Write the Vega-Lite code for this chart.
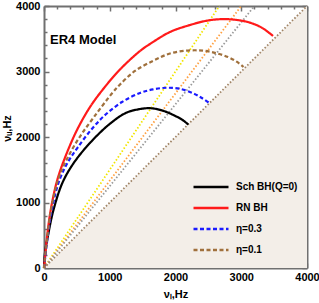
{
  "$schema": "https://vega.github.io/schema/vega-lite/v6.json",
  "autosize": {"type": "none"},
  "padding": {"left": 44, "top": 6, "right": 12, "bottom": 35},
  "width": 263,
  "height": 262,
  "config": {
    "font": "Liberation Sans",
    "view": {"stroke": null},
    "axis": {
      "labelFont": "Liberation Sans", "labelFontWeight": "bold", "labelFontSize": 11, "labelColor": "black",
      "titleFont": "Liberation Sans", "titleFontWeight": "bold", "titleFontSize": 11, "titleColor": "black",
      "domainColor": "#707070", "domainWidth": 2, "tickColor": "#707070", "tickWidth": 1.5, "grid": false
    }
  },
  "datasets": {
    "curves": [
      {"s": "Sch BH(Q=0)", "i": 0, "x": 0, "y": 0},
      {"s": "Sch BH(Q=0)", "i": 1, "x": 5, "y": 120},
      {"s": "Sch BH(Q=0)", "i": 2, "x": 20, "y": 270},
      {"s": "Sch BH(Q=0)", "i": 3, "x": 60, "y": 490},
      {"s": "Sch BH(Q=0)", "i": 4, "x": 140, "y": 870},
      {"s": "Sch BH(Q=0)", "i": 5, "x": 280, "y": 1300},
      {"s": "Sch BH(Q=0)", "i": 6, "x": 450, "y": 1600},
      {"s": "Sch BH(Q=0)", "i": 7, "x": 700, "y": 1910},
      {"s": "Sch BH(Q=0)", "i": 8, "x": 1000, "y": 2200},
      {"s": "Sch BH(Q=0)", "i": 9, "x": 1250, "y": 2370},
      {"s": "Sch BH(Q=0)", "i": 10, "x": 1450, "y": 2425},
      {"s": "Sch BH(Q=0)", "i": 11, "x": 1612, "y": 2440},
      {"s": "Sch BH(Q=0)", "i": 12, "x": 1800, "y": 2405},
      {"s": "Sch BH(Q=0)", "i": 13, "x": 1966, "y": 2336},
      {"s": "Sch BH(Q=0)", "i": 14, "x": 2100, "y": 2265},
      {"s": "Sch BH(Q=0)", "i": 15, "x": 2195, "y": 2190},
      {"s": "RN BH", "i": 0, "x": 0, "y": 0},
      {"s": "RN BH", "i": 1, "x": 15, "y": 153},
      {"s": "RN BH", "i": 2, "x": 41, "y": 427},
      {"s": "RN BH", "i": 3, "x": 102, "y": 885},
      {"s": "RN BH", "i": 4, "x": 202, "y": 1344},
      {"s": "RN BH", "i": 5, "x": 335, "y": 1725},
      {"s": "RN BH", "i": 6, "x": 502, "y": 2107},
      {"s": "RN BH", "i": 7, "x": 700, "y": 2458},
      {"s": "RN BH", "i": 8, "x": 913, "y": 2748},
      {"s": "RN BH", "i": 9, "x": 1156, "y": 3031},
      {"s": "RN BH", "i": 10, "x": 1460, "y": 3313},
      {"s": "RN BH", "i": 11, "x": 1612, "y": 3420},
      {"s": "RN BH", "i": 12, "x": 1916, "y": 3603},
      {"s": "RN BH", "i": 13, "x": 2221, "y": 3710},
      {"s": "RN BH", "i": 14, "x": 2500, "y": 3780},
      {"s": "RN BH", "i": 15, "x": 2750, "y": 3800},
      {"s": "RN BH", "i": 16, "x": 2981, "y": 3780},
      {"s": "RN BH", "i": 17, "x": 3150, "y": 3740},
      {"s": "RN BH", "i": 18, "x": 3320, "y": 3665},
      {"s": "RN BH", "i": 19, "x": 3483, "y": 3542},
      {"s": "η=0.3", "i": 0, "x": 0, "y": 0},
      {"s": "η=0.3", "i": 1, "x": 15, "y": 137},
      {"s": "η=0.3", "i": 2, "x": 50, "y": 427},
      {"s": "η=0.3", "i": 3, "x": 117, "y": 885},
      {"s": "η=0.3", "i": 4, "x": 236, "y": 1344},
      {"s": "η=0.3", "i": 5, "x": 365, "y": 1618},
      {"s": "η=0.3", "i": 6, "x": 517, "y": 1847},
      {"s": "η=0.3", "i": 7, "x": 715, "y": 2107},
      {"s": "η=0.3", "i": 8, "x": 913, "y": 2321},
      {"s": "η=0.3", "i": 9, "x": 1186, "y": 2534},
      {"s": "η=0.3", "i": 10, "x": 1460, "y": 2672},
      {"s": "η=0.3", "i": 11, "x": 1658, "y": 2727},
      {"s": "η=0.3", "i": 12, "x": 1866, "y": 2752},
      {"s": "η=0.3", "i": 13, "x": 2068, "y": 2736},
      {"s": "η=0.3", "i": 14, "x": 2271, "y": 2667},
      {"s": "η=0.3", "i": 15, "x": 2388, "y": 2603},
      {"s": "η=0.3", "i": 16, "x": 2503, "y": 2527},
      {"s": "η=0.1", "i": 0, "x": 0, "y": 0},
      {"s": "η=0.1", "i": 1, "x": 15, "y": 153},
      {"s": "η=0.1", "i": 2, "x": 46, "y": 427},
      {"s": "η=0.1", "i": 3, "x": 106, "y": 885},
      {"s": "η=0.1", "i": 4, "x": 213, "y": 1344},
      {"s": "η=0.1", "i": 5, "x": 342, "y": 1649},
      {"s": "η=0.1", "i": 6, "x": 532, "y": 1985},
      {"s": "η=0.1", "i": 7, "x": 760, "y": 2305},
      {"s": "η=0.1", "i": 8, "x": 1039, "y": 2672},
      {"s": "η=0.1", "i": 9, "x": 1156, "y": 2802},
      {"s": "η=0.1", "i": 10, "x": 1384, "y": 3008},
      {"s": "η=0.1", "i": 11, "x": 1662, "y": 3165},
      {"s": "η=0.1", "i": 12, "x": 1916, "y": 3275},
      {"s": "η=0.1", "i": 13, "x": 2190, "y": 3320},
      {"s": "η=0.1", "i": 14, "x": 2420, "y": 3318},
      {"s": "η=0.1", "i": 15, "x": 2627, "y": 3278},
      {"s": "η=0.1", "i": 16, "x": 2798, "y": 3221},
      {"s": "η=0.1", "i": 17, "x": 2931, "y": 3150},
      {"s": "η=0.1", "i": 18, "x": 3034, "y": 3069}
    ]
  },
  "layer": [
    {
      "data": {"values": [{"x": 0, "y": 0}, {"x": 4000, "y": 4000}]},
      "mark": {"type": "area", "color": "#f3eee8"},
      "encoding": {
        "x": {"field": "x", "type": "quantitative", "scale": {"domain": [0, 4000], "nice": false},
          "axis": {"orient": "bottom", "values": [0,200,400,600,800,1000,1200,1400,1600,1800,2000,2200,2400,2600,2800,3000,3200,3400,3600,3800,4000],
            "labelExpr": "datum.value % 1000 === 0 ? format(datum.value, 'd') : ''",
            "tickSize": {"condition": {"test": "datum.value % 1000 === 0", "value": -5}, "value": -3},
            "labelPadding": 8, "labelFlush": false, "title": "νₗ,Hz", "titlePadding": 6}},
        "y": {"field": "y", "type": "quantitative", "scale": {"domain": [0, 4000], "nice": false},
          "axis": {"orient": "left", "values": [0,200,400,600,800,1000,1200,1400,1600,1800,2000,2200,2400,2600,2800,3000,3200,3400,3600,3800,4000],
            "labelExpr": "datum.value % 1000 === 0 ? format(datum.value, 'd') : ''",
            "tickSize": {"condition": {"test": "datum.value % 1000 === 0", "value": -5}, "value": -3},
            "labelPadding": 9, "labelFlush": false, "title": "νᵤ,Hz", "titleX": -32, "titleY": 122}},
        "y2": {"datum": 0}
      }
    },
    {
      "data": {"values": [{"x": 0, "y": 0, "x2": 2667, "y2": 4000}]},
      "mark": {"type": "rule", "color": "#f2e600", "strokeWidth": 1.8, "strokeDash": [1.5, 2]},
      "encoding": {"x": {"field": "x", "type": "quantitative", "axis": null}, "y": {"field": "y", "type": "quantitative", "axis": null}, "x2": {"field": "x2"}, "y2": {"field": "y2"}}
    },
    {
      "data": {"values": [{"x": 0, "y": 0, "x2": 3000, "y2": 4000}]},
      "mark": {"type": "rule", "color": "#ffa040", "strokeWidth": 1.8, "strokeDash": [1.5, 2]},
      "encoding": {"x": {"field": "x", "type": "quantitative", "axis": null}, "y": {"field": "y", "type": "quantitative", "axis": null}, "x2": {"field": "x2"}, "y2": {"field": "y2"}}
    },
    {
      "data": {"values": [{"x": 0, "y": 0, "x2": 3200, "y2": 4000}]},
      "mark": {"type": "rule", "color": "#9a9a9a", "strokeWidth": 1.8, "strokeDash": [1.5, 2]},
      "encoding": {"x": {"field": "x", "type": "quantitative", "axis": null}, "y": {"field": "y", "type": "quantitative", "axis": null}, "x2": {"field": "x2"}, "y2": {"field": "y2"}}
    },
    {
      "data": {"values": [{"x": 0, "y": 0, "x2": 4000, "y2": 4000}]},
      "mark": {"type": "rule", "color": "#a08466", "strokeWidth": 1.8, "strokeDash": [1.5, 2]},
      "encoding": {"x": {"field": "x", "type": "quantitative", "axis": null}, "y": {"field": "y", "type": "quantitative", "axis": null}, "x2": {"field": "x2"}, "y2": {"field": "y2"}}
    },
    {
      "data": {"name": "curves"},
      "mark": {"type": "line", "strokeWidth": 2.2, "interpolate": "catmull-rom"},
      "encoding": {
        "x": {"field": "x", "type": "quantitative",
          "axis": {"orient": "top", "values": [0,200,400,600,800,1000,1200,1400,1600,1800,2000,2200,2400,2600,2800,3000,3200,3400,3600,3800,4000],
            "labels": false, "title": null,
            "tickSize": {"condition": {"test": "datum.value % 1000 === 0", "value": -5}, "value": -3}}},
        "y": {"field": "y", "type": "quantitative",
          "axis": {"orient": "right", "values": [0,200,400,600,800,1000,1200,1400,1600,1800,2000,2200,2400,2600,2800,3000,3200,3400,3600,3800,4000],
            "labels": false, "title": null,
            "tickSize": {"condition": {"test": "datum.value % 1000 === 0", "value": -5}, "value": -3}}},
        "order": {"field": "i", "type": "quantitative"},
        "color": {"field": "s", "type": "nominal",
          "scale": {"domain": ["Sch BH(Q=0)", "RN BH", "η=0.3", "η=0.1"], "range": ["black", "#ff1a1a", "#1a1aff", "#a0703c"]},
          "legend": {"orient": "none", "legendX": 148, "legendY": 175, "title": null, "symbolType": "stroke", "symbolSize": 1225,
            "symbolStrokeWidth": 2.5, "clipHeight": 12, "rowPadding": 9, "labelFont": "Liberation Sans", "labelFontWeight": "bold",
            "labelFontSize": 10, "labelColor": "black", "labelOffset": 6}},
        "strokeDash": {"field": "s", "type": "nominal",
          "scale": {"domain": ["Sch BH(Q=0)", "RN BH", "η=0.3", "η=0.1"], "range": [[1, 0], [1, 0], [4, 2.5], [4, 2.5]]},
          "legend": {"orient": "none", "legendX": 148, "legendY": 175, "title": null, "symbolType": "stroke", "symbolSize": 1225,
            "symbolStrokeWidth": 2.5, "clipHeight": 12, "rowPadding": 9, "labelFont": "Liberation Sans", "labelFontWeight": "bold",
            "labelFontSize": 10, "labelColor": "black", "labelOffset": 6}}
      }
    },
    {
      "data": {"values": [{"x": 91, "y": 3427, "t": "ER4 Model"}]},
      "mark": {"type": "text", "align": "left", "baseline": "alphabetic", "font": "Liberation Sans", "fontWeight": "bold", "fontSize": 13, "color": "black"},
      "encoding": {"x": {"field": "x", "type": "quantitative", "axis": null}, "y": {"field": "y", "type": "quantitative", "axis": null}, "text": {"field": "t"}}
    }
  ],
  "resolve": {"axis": {"x": "independent", "y": "independent"}}
}
